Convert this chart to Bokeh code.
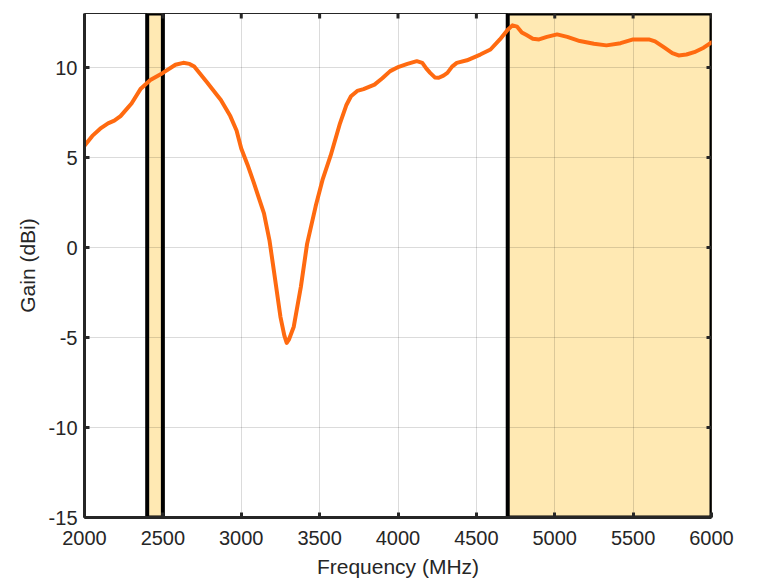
import math
from bokeh.plotting import figure
from bokeh.models import FixedTicker, Range1d
from bokeh.embed import file_html
from bokeh.resources import INLINE

# Measured gain curve
freq_mhz = [2000, 2050, 2100, 2150, 2190, 2230, 2270, 2300, 2357, 2420, 2500, 2580, 2630, 2670,
            2700, 2780, 2870, 2930, 2970, 3000, 3040, 3080, 3145, 3180, 3210, 3250, 3275, 3290,
            3305, 3335, 3380, 3420, 3475, 3520, 3570, 3630, 3670, 3700, 3740, 3780, 3850, 3900,
            3950, 4005, 4060, 4120, 4155, 4180, 4205, 4235, 4260, 4290, 4315, 4345, 4375, 4440,
            4525, 4590, 4650, 4700, 4730, 4760, 4790, 4820, 4860, 4900, 4950, 5015, 5080, 5160,
            5250, 5330, 5420, 5500, 5600, 5640, 5700, 5750, 5790, 5840, 5890, 5950, 6000]
gain_dbi = [5.66, 6.2, 6.6, 6.9, 7.05, 7.3, 7.7, 8.0, 8.8, 9.3, 9.7, 10.15, 10.26, 10.2,
            10.05, 9.2, 8.2, 7.3, 6.5, 5.5, 4.6, 3.6, 1.9, 0.4, -1.4, -3.85, -4.9, -5.3,
            -5.1, -4.4, -2.2, 0.2, 2.3, 3.8, 5.1, 6.9, 7.9, 8.4, 8.7, 8.8, 9.05, 9.4,
            9.8, 10.04, 10.2, 10.35, 10.26, 9.95, 9.7, 9.45, 9.43, 9.55, 9.7, 10.05, 10.26, 10.4,
            10.72, 11.0, 11.56, 12.1, 12.34, 12.27, 11.95, 11.8, 11.6, 11.56, 11.7, 11.84, 11.7, 11.47,
            11.32, 11.23, 11.35, 11.56, 11.56, 11.45, 11.1, 10.8, 10.67, 10.72, 10.85, 11.1, 11.4]

# Highlighted operating bands
band_start = [2400, 4700]
band_end = [2500, 6000]

x_ticks = [2000, 2500, 3000, 3500, 4000, 4500, 5000, 5500, 6000]
y_ticks = [-15, -10, -5, 0, 5, 10]
x_limits = (2000, 6000)
y_limits = (-15, 13)

FONT = "Liberation Sans"
DARK = "#262626"

p = figure(width=748, height=584,
           x_range=Range1d(*x_limits), y_range=Range1d(*y_limits),
           output_backend="svg", toolbar_location=None,
           min_border_left=84, min_border_right=37,
           min_border_top=13, min_border_bottom=67)

p.quad(left=band_start, right=band_end,
       bottom=[y_limits[0]] * len(band_start), top=[y_limits[1]] * len(band_start),
       fill_color="#FFE9B3", line_color="black", line_width=4, level="image")

p.line(freq_mhz, gain_dbi, line_color="#FF6A10", line_width=4,
       line_join="round", line_cap="round")

# inward ticks on the top and right frame edges
p.ray(x=x_ticks, y=[y_limits[1]] * len(x_ticks), length=5, length_units="screen",
      angle=-math.pi / 2, line_color=DARK, line_width=3)
p.ray(x=[x_limits[1]] * len(y_ticks), y=y_ticks, length=5, length_units="screen",
      angle=math.pi, line_color=DARK, line_width=3)

p.outline_line_color = DARK
p.outline_line_width = 1

for g in (p.xgrid, p.ygrid):
    g.grid_line_color = "black"
    g.grid_line_alpha = 0.14
    g.grid_line_width = 1
p.xgrid.ticker = FixedTicker(ticks=x_ticks)
p.ygrid.ticker = FixedTicker(ticks=y_ticks)

xa = p.xaxis[0]
ya = p.yaxis[0]
xa.ticker = FixedTicker(ticks=x_ticks)
ya.ticker = FixedTicker(ticks=y_ticks)
ya.major_label_overrides = {v: str(v) for v in y_ticks}
xa.axis_label = "Frequency (MHz)"
ya.axis_label = "Gain (dBi)"
for ax in (xa, ya):
    ax.axis_line_color = DARK
    ax.axis_line_width = 3
    ax.major_tick_line_color = DARK
    ax.major_tick_line_width = 3
    ax.major_tick_in = 5
    ax.major_tick_out = 0
    ax.minor_tick_line_color = None
    ax.major_label_text_font = FONT
    ax.major_label_text_font_size = "20px"
    ax.major_label_text_color = DARK
    ax.axis_label_text_font = FONT
    ax.axis_label_text_font_size = "21px"
    ax.axis_label_text_font_style = "normal"
    ax.axis_label_text_color = DARK
xa.major_label_standoff = 13
xa.axis_label_standoff = 7
ya.major_label_standoff = 7
ya.axis_label_standoff = 7

open("out.html", "w").write(file_html(p, INLINE))
